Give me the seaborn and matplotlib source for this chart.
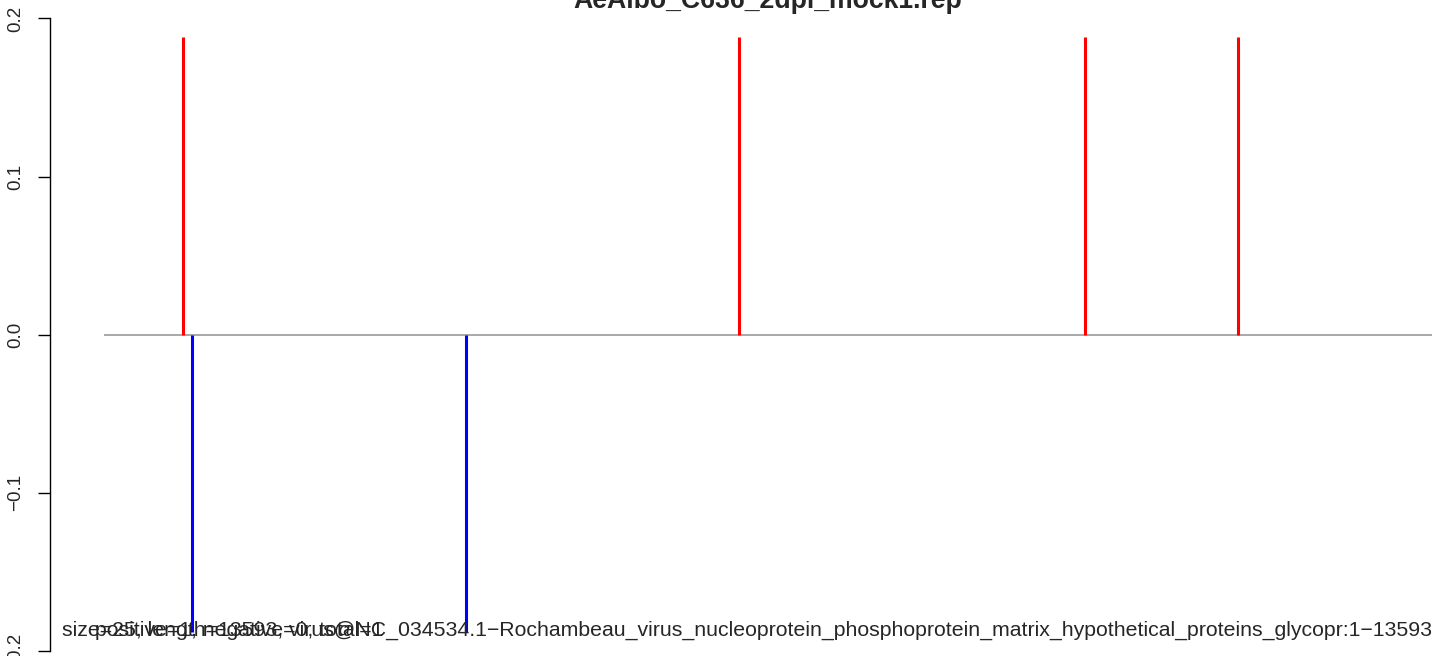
import numpy as np
import pandas as pd
import matplotlib
matplotlib.use("Agg")
import matplotlib.pyplot as plt
import seaborn as sns

# ---- data ----
title = "AeAlbo_C636_2dpi_mock1.rep"
genome_start = 1
genome_end = 13593
pos_positions = [809, 6500, 10041, 11607]
pos_values = [0.188, 0.188, 0.188, 0.188]
neg_positions = [901, 3705]
neg_values = [-0.188, -0.188]
yticks = [-0.2, -0.1, 0.0, 0.1, 0.2]
ytick_labels = ["\u22120.2", "\u22120.1", "0.0", "0.1", "0.2"]
label_a = ("size=25, length=13593, virus@NC_034534.1\u2212Rochambeau_virus_nucleoprotein_"
           "phosphoprotein_matrix_hypothetical_proteins_glycopr:1\u221213593")
label_b = "positive=1, negative=0, total=1"

# ---- build long table of segments ----
rows = []
sid = 0
for p, v in zip(pos_positions, pos_values):
    rows += [dict(x=p, y=0.0, seg=sid, strand="+"), dict(x=p, y=v, seg=sid, strand="+")]
    sid += 1
for p, v in zip(neg_positions, neg_values):
    rows += [dict(x=p, y=0.0, seg=sid, strand="-"), dict(x=p, y=v, seg=sid, strand="-")]
    sid += 1
df = pd.DataFrame(rows)

sns.set_style("white")
plt.rcParams["font.family"] = ["Liberation Sans", "DejaVu Sans"]

W, H = 1444, 656
fig = plt.figure(figsize=(W / 100, H / 100), dpi=100)

ax_left_px = 50
ax_right_px = 1444
y_top_px = 18.4     # y = 0.2
y_bot_px = 651.0    # y = -0.2
ax = fig.add_axes([ax_left_px / W, 1 - y_bot_px / H,
                   (ax_right_px - ax_left_px) / W, (y_bot_px - y_top_px) / H])

k = (1432 - 104) / (genome_end - genome_start)
xlim_left = genome_start - (104 - ax_left_px) / k
xlim_right = genome_start + (ax_right_px - 104) / k

ax.hlines(0, genome_start, genome_end, color="#999999", lw=1.2, zorder=1)
sns.lineplot(data=df, x="x", y="y", units="seg", hue="strand", estimator=None,
             palette={"+": "#ff0000", "-": "#0000ff"}, lw=2.2, legend=False,
             ax=ax, zorder=2)
for ln in ax.lines:
    ln.set_solid_capstyle("butt")

ax.set_xlim(xlim_left, xlim_right)
ax.set_ylim(-0.2, 0.2)
for s in ["top", "right", "bottom"]:
    ax.spines[s].set_visible(False)
ax.spines["left"].set_color("black")
ax.spines["left"].set_linewidth(1.0)
ax.set_xticks([])
ax.set_yticks(yticks)
ax.set_yticklabels(ytick_labels, rotation=90, va="center", fontsize=13.5)
ax.tick_params(axis="y", length=8.6, width=1.0, color="black", pad=10, left=True)
ax.set_xlabel("")
ax.set_ylabel("")

fig.text(768 / W, 1 - 8 / H, title, ha="center", va="baseline",
         fontsize=19.2, fontweight="bold")

fig.text(1432 / W, 1 - 636 / H, label_a, ha="right", va="baseline", fontsize=15.3)
fig.text(95 / W, 1 - 636 / H, label_b, ha="left", va="baseline", fontsize=15.3)

fig.savefig("out.png", dpi=100)
